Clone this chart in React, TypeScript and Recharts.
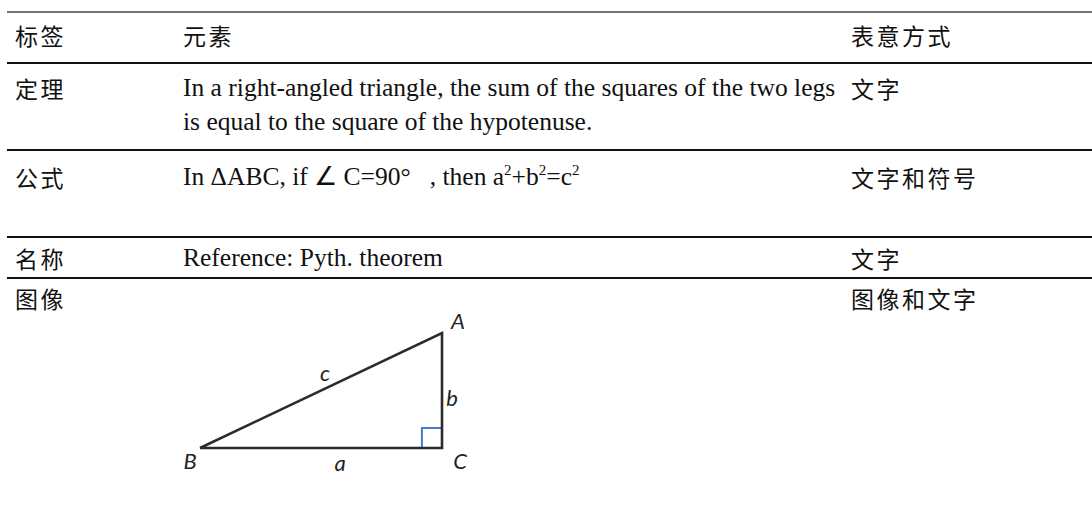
import React from 'react';
import { ComposedChart, Line, Scatter, XAxis, YAxis } from 'recharts';

// ---- table content ----
const headers = ['标签', '元素', '表意方式'];
const rowLabels = ['定理', '公式', '名称', '图像'];
const theoremLines = [
  'In a right-angled triangle, the sum of the squares of the two legs',
  'is equal to the square of the hypotenuse.',
];
const referenceText = 'Reference: Pyth. theorem';
const modes = ['文字', '文字和符号', '文字', '图像和文字'];

// ---- triangle data (leg lengths in abstract units) ----
const legA = 10;
const legB = 4.75;
const markSide = 0.83;
const vertexB = { x: 0, y: 0 };
const vertexC = { x: legA, y: 0 };
const vertexA = { x: legA, y: legB };
const triangleOutline = [vertexB, vertexC, vertexA, vertexB];
const rightAngleMark = [
  { x: legA - markSide, y: 0 },
  { x: legA - markSide, y: markSide },
  { x: legA, y: markSide },
];
const triangleLabels = [
  { name: 'A', ...vertexA },
  { name: 'B', ...vertexB },
  { name: 'C', ...vertexC },
  { name: 'a', x: legA / 2, y: 0 },
  { name: 'b', x: legA, y: legB / 2 },
  { name: 'c', x: legA / 2, y: legB / 2 },
];

const labelOffsets: Record<string, [number, number]> = {
  A: [16, -13],
  B: [-10, 12],
  C: [18, 12],
  a: [19, 14],
  b: [10, 7],
  c: [4, -18],
};

const SERIF = '"Liberation Serif", "Times New Roman", serif';
const CJK = '"Noto Sans CJK SC", "Noto Sans", sans-serif';

const COL_X = [15, 183, 851];
const RULES = [
  { y: 12, w: 1.5, c: '#444' },
  { y: 63, w: 2.2, c: '#111' },
  { y: 150, w: 2.2, c: '#111' },
  { y: 237, w: 2.2, c: '#111' },
  { y: 278, w: 2.2, c: '#111' },
];

const Cell = ({ x, cy, cjk, children }: any) => (
  <div
    style={{
      position: 'absolute',
      left: x,
      top: cy - 16,
      height: 32,
      lineHeight: '32px',
      whiteSpace: 'nowrap',
      fontFamily: cjk ? CJK : SERIF,
      fontSize: cjk ? 23 : 25.5,
      letterSpacing: cjk ? 2.5 : 0,
      color: '#111',
    }}
  >
    {children}
  </div>
);

const Sup = ({ children }: any) => (
  <span style={{ fontSize: 15, position: 'relative', top: -10, lineHeight: 0 }}>{children}</span>
);

const LabelShape = (props: any) => {
  const { cx, cy, payload } = props;
  const off = labelOffsets[payload.name] || [0, 0];
  return (
    <text
      x={cx + off[0]}
      y={cy + off[1]}
      textAnchor="middle"
      dominantBaseline="central"
      fontFamily='"Lato", "Open Sans", sans-serif'
      fontStyle="italic"
      fontSize={22}
      fill="#222"
    >
      {payload.name}
    </text>
  );
};

export default function App() {
  return (
    <div style={{ position: 'absolute', left: 0, top: 0, width: 1092, height: 519, background: '#fff' }}>
      <svg width={1092} height={519} style={{ position: 'absolute', left: 0, top: 0 }}>
        {RULES.map((r, i) => (
          <line key={i} x1={7} x2={1092} y1={r.y} y2={r.y} stroke={r.c} strokeWidth={r.w} />
        ))}
      </svg>

      <Cell x={COL_X[0]} cy={35} cjk>{headers[0]}</Cell>
      <Cell x={COL_X[1]} cy={35} cjk>{headers[1]}</Cell>
      <Cell x={COL_X[2]} cy={35} cjk>{headers[2]}</Cell>

      <Cell x={COL_X[0]} cy={88} cjk>{rowLabels[0]}</Cell>
      <Cell x={COL_X[1]} cy={88}>{theoremLines[0]}</Cell>
      <Cell x={COL_X[1]} cy={122}>{theoremLines[1]}</Cell>
      <Cell x={COL_X[2]} cy={88} cjk>{modes[0]}</Cell>

      <Cell x={COL_X[0]} cy={177} cjk>{rowLabels[1]}</Cell>
      <Cell x={COL_X[1]} cy={177}>
        In ΔABC, if ∠ C=90°{'\u00a0\u00a0\u00a0'}, then a<Sup>2</Sup>+b<Sup>2</Sup>=c<Sup>2</Sup>
      </Cell>
      <Cell x={COL_X[2]} cy={177} cjk>{modes[1]}</Cell>

      <Cell x={COL_X[0]} cy={258} cjk>{rowLabels[2]}</Cell>
      <Cell x={COL_X[1]} cy={258}>{referenceText}</Cell>
      <Cell x={COL_X[2]} cy={258} cjk>{modes[2]}</Cell>

      <Cell x={COL_X[0]} cy={298} cjk>{rowLabels[3]}</Cell>
      <Cell x={COL_X[2]} cy={298} cjk>{modes[3]}</Cell>

      <div style={{ position: 'absolute', left: 160, top: 290 }}>
        <ComposedChart
          width={340}
          height={210}
          margin={{ top: 43, right: 58, bottom: 52, left: 40 }}
        >
          <XAxis type="number" dataKey="x" domain={[0, legA]} hide />
          <YAxis type="number" dataKey="y" domain={[0, legB]} hide />
          <Line
            data={rightAngleMark}
            dataKey="y"
            type="linear"
            stroke="#3a80d0"
            strokeWidth={2}
            dot={false}
            isAnimationActive={false}
          />
          <Line
            data={triangleOutline}
            dataKey="y"
            type="linear"
            stroke="#2b2b2b"
            strokeWidth={2.6}
            dot={false}
            isAnimationActive={false}
          />
          <Scatter data={triangleLabels} dataKey="y" shape={LabelShape} isAnimationActive={false} />
        </ComposedChart>
      </div>
    </div>
  );
}
